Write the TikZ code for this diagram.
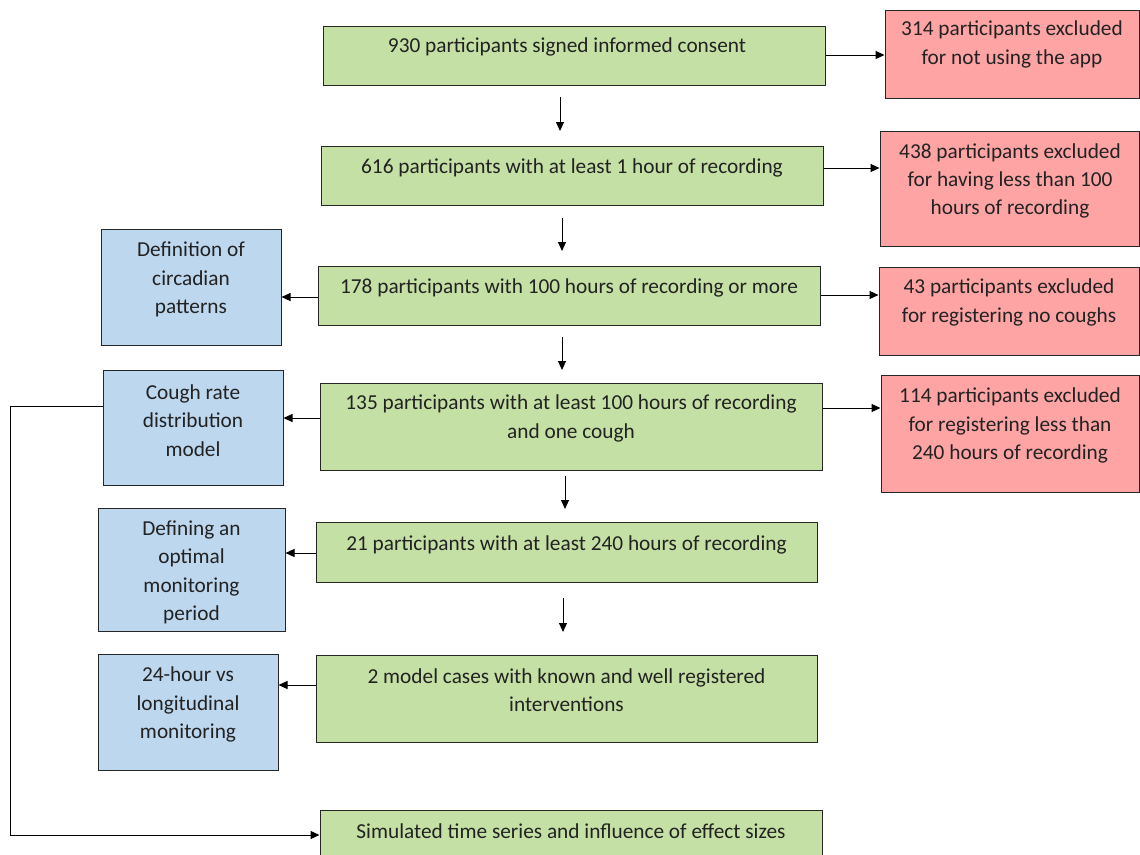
\documentclass[tikz,border=0pt]{standalone}
\usepackage{fontspec}
\setmainfont{Carlito}
\usetikzlibrary{arrows.meta}
\definecolor{gfill}{HTML}{C5E0A4}
\definecolor{rfill}{HTML}{FFA4A4}
\definecolor{bfill}{HTML}{BDD7EE}
\definecolor{txtc}{HTML}{222222}
\begin{document}
\begin{tikzpicture}[x=1pt,y=-1pt,
  box/.style={draw=black!85, line width=1pt, inner sep=0pt},
  gbox/.style={box, fill=gfill},
  rbox/.style={box, fill=rfill},
  bbox/.style={box, fill=bfill},
  txt/.style={font=\fontsize{21.3}{28.4}\selectfont, align=center, inner sep=0pt, text=txtc},
  arr/.style={-{Triangle[length=9pt,width=8pt]}, line width=1pt, black}]
\useasboundingbox (0,0) rectangle (1140,854);
\clip (0,0) rectangle (1140,854);
\fill[white] (0,0) rectangle (1140,854);
% green boxes
\node[gbox, minimum width=502pt, minimum height=59pt] (G1) at (574,55.5) {};
\node[txt] (G1t) at (567,47) {930 participants signed informed consent};
\node[gbox, minimum width=502pt, minimum height=59pt] (G2) at (572,175.5) {};
\node[txt] (G2t) at (572,168) {616 participants with at least 1 hour of recording};
\node[gbox, minimum width=502pt, minimum height=59pt] (G3) at (569,295.5) {};
\node[txt] (G3t) at (569,288) {178 participants with 100 hours of recording or more};
\node[gbox, minimum width=502pt, minimum height=87pt] (G4) at (571,426.5) {};
\node[txt] (G4t) at (571,418.5) {135 participants with at least 100 hours of recording\\and one cough};
\node[gbox, minimum width=501pt, minimum height=60pt] (G5) at (566.5,552) {};
\node[txt] (G5t) at (566.5,545) {21 participants with at least 240 hours of recording};
\node[gbox, minimum width=501pt, minimum height=87pt] (G6) at (566.5,698.5) {};
\node[txt] (G6t) at (566.5,690) {2 model cases with known and well registered\\interventions};
\node[gbox, minimum width=502pt, minimum height=60pt] (G7) at (571,840) {};
\node[txt] (G7t) at (571,831) {Simulated time series and influence of effect sizes};
% red boxes
\node[rbox, minimum width=254pt, minimum height=88pt] (R1) at (1012,54) {};
\node[txt] (R1t) at (1012,44.5) {314 participants excluded\\for not using the app};
\node[rbox, minimum width=259pt, minimum height=115pt] (R2) at (1009.5,188.5) {};
\node[txt] (R2t) at (1010,181) {438 participants excluded\\for having less than 100\\hours of recording};
\node[rbox, minimum width=260pt, minimum height=88pt] (R3) at (1009,311) {};
\node[txt] (R3t) at (1009,302.5) {43 participants excluded\\for registering no coughs};
\node[rbox, minimum width=258pt, minimum height=117pt] (R4) at (1010,433.5) {};
\node[txt] (R4t) at (1010,425.5) {114 participants excluded\\for registering less than\\240 hours of recording};
% blue boxes
\node[bbox, minimum width=180pt, minimum height=116pt] (B1) at (191,287) {};
\node[txt] (B1t) at (191,279.5) {Definition of\\circadian\\patterns};
\node[bbox, minimum width=180pt, minimum height=115pt] (B2) at (193,427.5) {};
\node[txt] (B2t) at (193,420.5) {Cough rate\\distribution\\model};
\node[bbox, minimum width=187pt, minimum height=123pt] (B3) at (191.5,569.5) {};
\node[txt] (B3t) at (191.5,572.5) {Defining an\\optimal\\monitoring\\period};
\node[bbox, minimum width=180pt, minimum height=116pt] (B4) at (188,712) {};
\node[txt] (B4t) at (188,704.5) {24-hour vs\\longitudinal\\monitoring};
% down arrows
\coordinate (d1a) at (560,97);  \coordinate (d1b) at (560,131);
\coordinate (d2a) at (562,218); \coordinate (d2b) at (562,251);
\coordinate (d3a) at (562,337); \coordinate (d3b) at (562,370);
\coordinate (d4a) at (565,476); \coordinate (d4b) at (565,509);
\coordinate (d5a) at (563,598); \coordinate (d5b) at (563,632);
\draw[arr] (d1a) -- (d1b);
\draw[arr] (d2a) -- (d2b);
\draw[arr] (d3a) -- (d3b);
\draw[arr] (d4a) -- (d4b);
\draw[arr] (d5a) -- (d5b);
% right arrows
\draw[arr] (G1.east |- 0,55) -- (R1.west |- 0,55);
\draw[arr] (G2.east |- 0,168) -- (R2.west |- 0,168);
\draw[arr] (G3.east |- 0,295) -- (R3.west |- 0,295);
\draw[arr] (G4.east |- 0,408) -- (R4.west |- 0,408);
% left arrows
\draw[arr] (G3.west |- 0,297) -- (B1.east |- 0,297);
\draw[arr] (G4.west |- 0,418) -- (B2.east |- 0,418);
\draw[arr] (G5.west |- 0,553) -- (B3.east |- 0,553);
\draw[arr] (G6.west |- 0,685) -- (B4.east |- 0,685);
% long connector
\coordinate (lc1) at (10,406);
\coordinate (lc2) at (10,835);
\draw[arr] (B2.west |- lc1) -- (lc1) -- (lc2) -- (G7.west |- lc2);
\end{tikzpicture}
\end{document}
